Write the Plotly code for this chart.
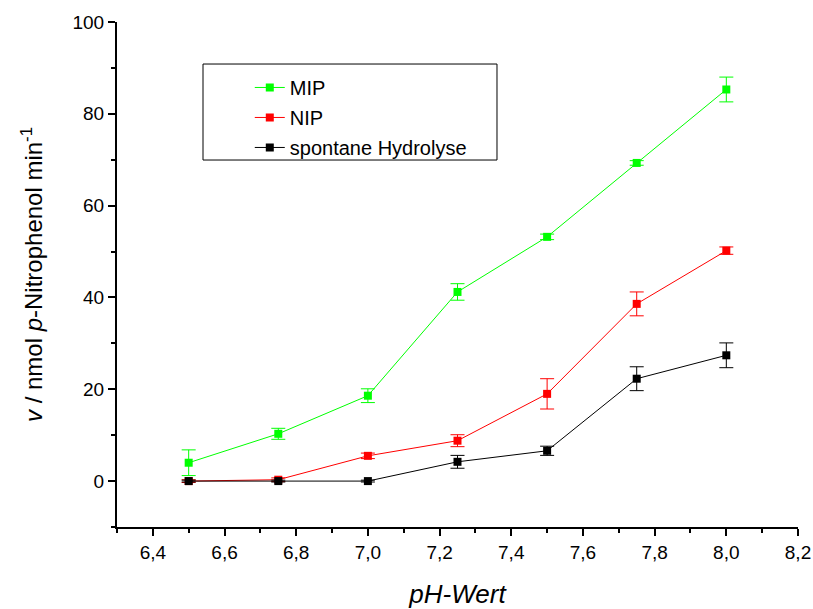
import plotly.graph_objects as go

ph = [6.5, 6.75, 7.0, 7.25, 7.5, 7.75, 8.0]
mip = [4.0, 10.3, 18.6, 41.2, 53.2, 69.3, 85.3]
mip_err = [2.8, 1.2, 1.5, 1.8, 0.6, 0.5, 2.7]
nip = [0.0, 0.3, 5.5, 8.8, 19.0, 38.6, 50.2]
nip_err = [0.3, 0.4, 0.6, 1.3, 3.3, 2.6, 0.8]
spont = [0.0, 0.0, 0.0, 4.2, 6.6, 22.3, 27.4]
spont_err = [0.2, 0.2, 0.2, 1.4, 1.0, 2.6, 2.7]

series = [
    ("MIP", mip, mip_err, "#00ff00"),
    ("NIP", nip, nip_err, "#ff0000"),
    ("spontane Hydrolyse", spont, spont_err, "#000000"),
]

fig = go.Figure()
for name, y, err, col in series:
    fig.add_trace(go.Scatter(
        x=ph, y=y, name=name, mode="lines+markers", legendgroup=name,
        line=dict(color=col, width=1),
        marker=dict(symbol="square", size=8, color=col),
        error_y=dict(type="data", array=err, visible=True, color=col, thickness=1, width=7),
    ))

# legend frame
fig.add_shape(type="rect", xref="paper", yref="paper",
              x0=0.1263, x1=0.558, y0=0.7267, y1=0.9168,
              line=dict(color="black", width=1), fillcolor="rgba(0,0,0,0)", layer="below")

fig.update_layout(
    width=813, height=609,
    margin=dict(l=117, r=15, t=22, b=82),
    plot_bgcolor="white", paper_bgcolor="white",
    separators=",.",
    font=dict(family="Arial, Liberation Sans, sans-serif", size=19, color="black"),
    showlegend=True,
    legend=dict(x=0.195, y=0.909, xanchor="left", yanchor="top",
                borderwidth=0, bgcolor="rgba(0,0,0,0)",
                font=dict(size=20), tracegroupgap=1, traceorder="grouped"),
    xaxis=dict(range=[6.3, 8.2], tickvals=[6.4, 6.6, 6.8, 7.0, 7.2, 7.4, 7.6, 7.8, 8.0, 8.2],
               tickformat=".1f", ticks="outside", ticklen=7, tickwidth=1.5, tickcolor="black",
               minor=dict(dtick=0.1, tick0=6.3, ticks="outside", ticklen=4, tickcolor="black", tickwidth=1.5),
               showline=True, linecolor="black", linewidth=2, showgrid=False, zeroline=False,
               automargin=False,
               title=dict(text="<i>pH-Wert</i>", font=dict(size=26), standoff=26)),
    yaxis=dict(range=[-10, 100], tickvals=[0, 20, 40, 60, 80, 100],
               ticks="outside", ticklen=7, tickwidth=1.5, tickcolor="black",
               minor=dict(tickvals=[-10, 10, 30, 50, 70, 90], ticks="outside", ticklen=4, tickcolor="black", tickwidth=1.5),
               showline=True, linecolor="black", linewidth=2, showgrid=False, zeroline=False,
               automargin=False,
               title=dict(text="<i>v</i> / nmol <i>p</i>-Nitrophenol min<sup>-1</sup>", font=dict(size=24), standoff=23)),
)

fig.write_html("out.html", config={"displayModeBar": False},
               post_script="document.body.style.margin='0';document.body.style.overflow='hidden';")
